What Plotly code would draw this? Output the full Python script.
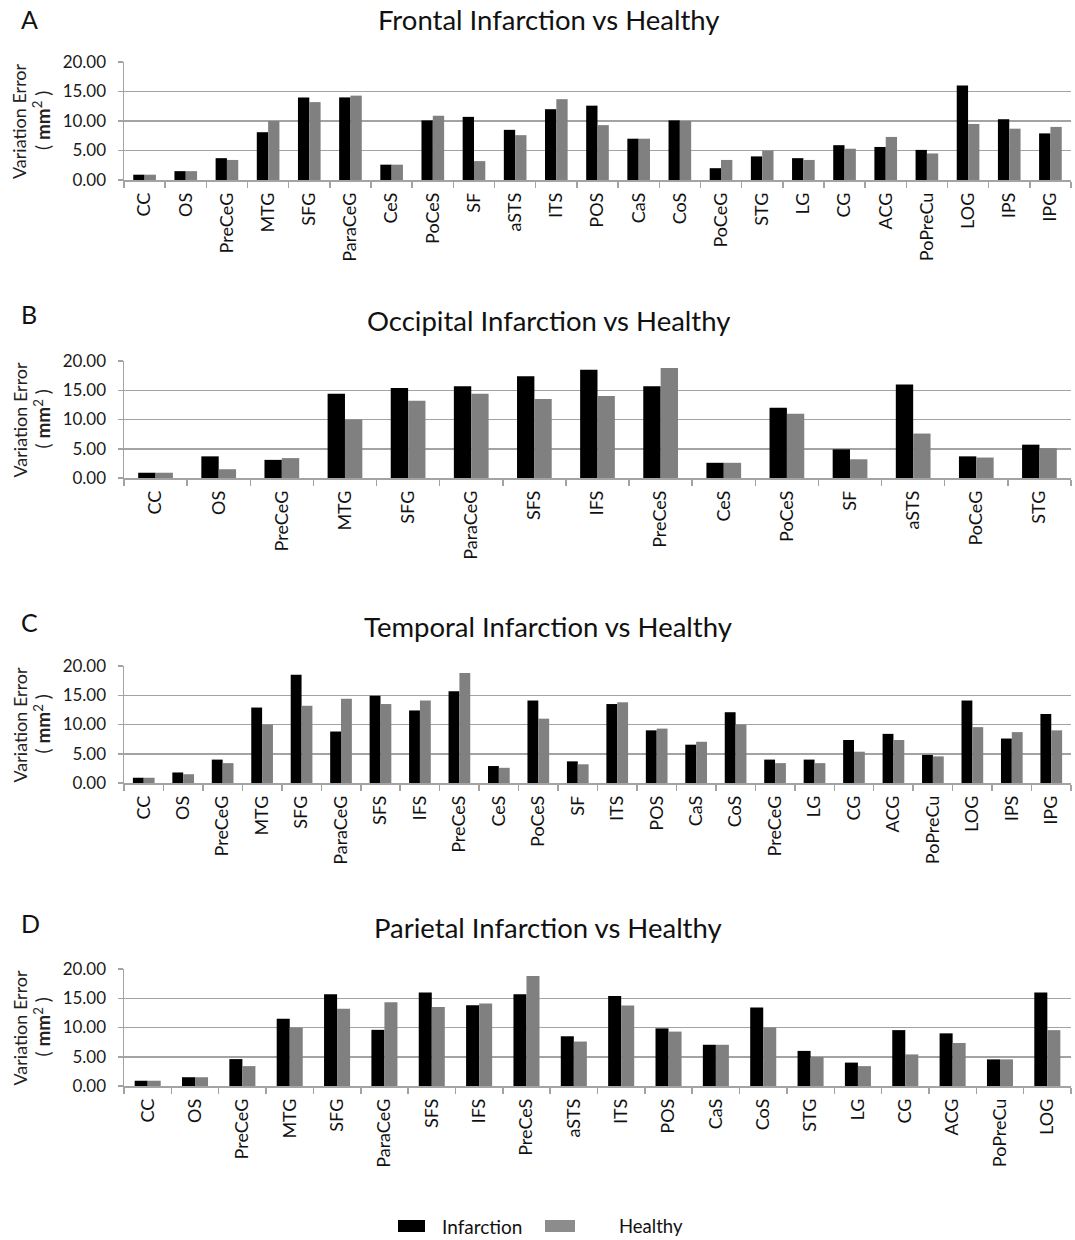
import plotly.graph_objects as go

A_cats = ["CC","OS","PreCeG","MTG","SFG","ParaCeG","CeS","PoCeS","SF","aSTS","ITS","POS","CaS","CoS","PoCeG","STG","LG","CG","ACG","PoPreCu","LOG","IPS","IPG"]
A_inf = [0.9,1.5,3.7,8.1,14.0,14.0,2.6,10.1,10.7,8.5,12.0,12.6,7.0,10.1,2.0,4.0,3.7,5.9,5.6,5.1,16.0,10.3,7.9]
A_hea = [0.9,1.5,3.4,10.0,13.2,14.3,2.6,10.9,3.2,7.6,13.7,9.3,7.0,10.0,3.4,5.0,3.4,5.3,7.3,4.5,9.5,8.7,9.0]

B_cats = ["CC","OS","PreCeG","MTG","SFG","ParaCeG","SFS","IFS","PreCeS","CeS","PoCeS","SF","aSTS","PoCeG","STG"]
B_inf = [0.9,3.7,3.1,14.4,15.4,15.7,17.4,18.5,15.7,2.6,12.0,4.9,16.0,3.7,5.7]
B_hea = [0.9,1.5,3.4,10.0,13.2,14.4,13.5,14.0,18.8,2.6,11.0,3.2,7.6,3.5,5.1]

# second "PreCeG" carries a zero-width space so it stays a separate category
C_cats = ["CC","OS","PreCeG","MTG","SFG","ParaCeG","SFS","IFS","PreCeS","CeS","PoCeS","SF","ITS","POS","CaS","CoS","PreCeG\u200b","LG","CG","ACG","PoPreCu","LOG","IPS","IPG"]
C_inf = [0.9,1.8,4.0,12.9,18.5,8.8,14.9,12.4,15.7,2.9,14.1,3.7,13.5,9.0,6.55,12.1,4.0,4.0,7.35,8.4,4.8,14.1,7.6,11.8]
C_hea = [0.9,1.5,3.4,10.0,13.2,14.4,13.5,14.1,18.8,2.6,11.0,3.2,13.8,9.3,7.05,10.0,3.4,3.4,5.35,7.35,4.55,9.55,8.7,9.0]

D_cats = ["CC","OS","PreCeG","MTG","SFG","ParaCeG","SFS","IFS","PreCeS","aSTS","ITS","POS","CaS","CoS","STG","LG","CG","ACG","PoPreCu","LOG"]
D_inf = [0.9,1.5,4.6,11.5,15.7,9.6,16.0,13.8,15.7,8.5,15.4,9.85,7.05,13.4,6.0,4.0,9.55,9.0,4.55,16.0]
D_hea = [0.9,1.5,3.4,10.0,13.2,14.3,13.5,14.1,18.8,7.6,13.75,9.3,7.05,10.0,4.95,3.4,5.4,7.35,4.55,9.55]

titles = ["Frontal Infarction vs Healthy", "Occipital Infarction vs Healthy",
          "Temporal Infarction vs Healthy", "Parietal Infarction vs Healthy"]
letters = ["A", "B", "C", "D"]
series_names = ["Infarction", "Healthy"]
series_colors = ["#000000", "#808080"]
y_ticks = [0, 5, 10, 15, 20]

W, H = 1075, 1240
FONT = "Lato, 'Open Sans', sans-serif"
GRID = "#a3a3a3"

panels = [(A_cats, A_inf, A_hea), (B_cats, B_inf, B_hea), (C_cats, C_inf, C_hea), (D_cats, D_inf, D_hea)]
plot_px = [(62, 180), (361, 478), (666, 783), (969, 1086)]
title_px = [19, 321, 626, 927]
letter_px = [19, 314, 622, 923]
x_left, x_right = 124, 1071

def px(x): return x / W
def py(y): return 1 - y / H

fig = go.Figure()
layout = dict(
    width=W, height=H, margin=dict(l=0, r=0, t=0, b=0),
    paper_bgcolor="white", plot_bgcolor="white",
    font=dict(family=FONT, color="#222"),
    barmode="group", bargap=0.45, bargroupgap=0.0,
    showlegend=False,
    annotations=[], shapes=[],
)

for i, (cats, inf, hea) in enumerate(panels):
    n = "" if i == 0 else str(i + 1)
    xa, ya = "x" + n, "y" + n
    for name, vals, col in zip(series_names, (inf, hea), series_colors):
        fig.add_trace(go.Bar(x=cats, y=vals, name=name, marker=dict(color=col, line=dict(width=0)),
                             xaxis=xa, yaxis=ya))
    top, bot = plot_px[i]
    layout["xaxis" + n] = dict(
        domain=[px(x_left), px(x_right)], anchor=ya, type="category",
        tickson="boundaries", ticks="outside", ticklen=6, tickcolor=GRID, tickwidth=1.5,
        showline=True, linecolor=GRID, linewidth=1.5, showgrid=False,
        tickangle=-90, tickfont=dict(size=18, family=FONT, color="#111"),
        ticklabelstandoff=4,
        automargin=False, fixedrange=True,
    )
    layout["yaxis" + n] = dict(
        domain=[py(bot), py(top)], anchor=xa, range=[0, 20],
        tickvals=y_ticks, tickformat=".2f",
        ticks="outside", ticklen=5, tickcolor=GRID, tickwidth=1.5,
        showline=True, linecolor=GRID, linewidth=1.5,
        showgrid=True, gridcolor=GRID, gridwidth=1.5, zeroline=False,
        tickfont=dict(size=17, family=FONT, color="#1a1a1a"),
        ticklabelstandoff=8,
        automargin=False, fixedrange=True,
    )
    mid = (top + bot) / 2
    layout["annotations"] += [
        dict(text=titles[i], x=px(548), y=py(title_px[i]), xref="paper", yref="paper",
             showarrow=False, xanchor="center", yanchor="middle",
             font=dict(size=27.5, family=FONT, color="#111")),
        dict(text=letters[i], x=px(19), y=py(letter_px[i]), xref="paper", yref="paper",
             showarrow=False, xanchor="left", yanchor="middle",
             font=dict(size=25, family=FONT, color="#111")),
        dict(text="Variation Error", x=px(19), y=py(mid), xref="paper", yref="paper",
             showarrow=False, textangle=-90, xanchor="center", yanchor="middle",
             font=dict(size=18, family=FONT, color="#222")),
        dict(text="( <b>mm</b><sup>2</sup> )", x=px(42), y=py(mid), xref="paper", yref="paper",
             showarrow=False, textangle=-90, xanchor="center", yanchor="middle",
             font=dict(size=19, family=FONT, color="#222")),
    ]

# legend drawn at the bottom: swatch rectangles + labels
leg_items = [(398, 425, 440, series_names[0], series_colors[0], 19),
             (545, 575, 617, series_names[1], "#8c8c8c", 18.5)]
for x0, x1, tx, name, col, fs in leg_items:
    layout["shapes"].append(dict(type="rect", xref="paper", yref="paper",
                                 x0=px(x0), x1=px(x1), y0=py(1232), y1=py(1220),
                                 fillcolor=col, line=dict(width=0)))
    layout["annotations"].append(dict(text=name, x=px(tx), y=py(1226), xref="paper", yref="paper",
                                      showarrow=False, xanchor="left", yanchor="middle",
                                      font=dict(size=fs, family=FONT, color="#111")))

fig.update_layout(**layout)
fig.write_html("out.html", config={"displayModeBar": False, "staticPlot": True},
               post_script="document.body.style.margin='0px';")
